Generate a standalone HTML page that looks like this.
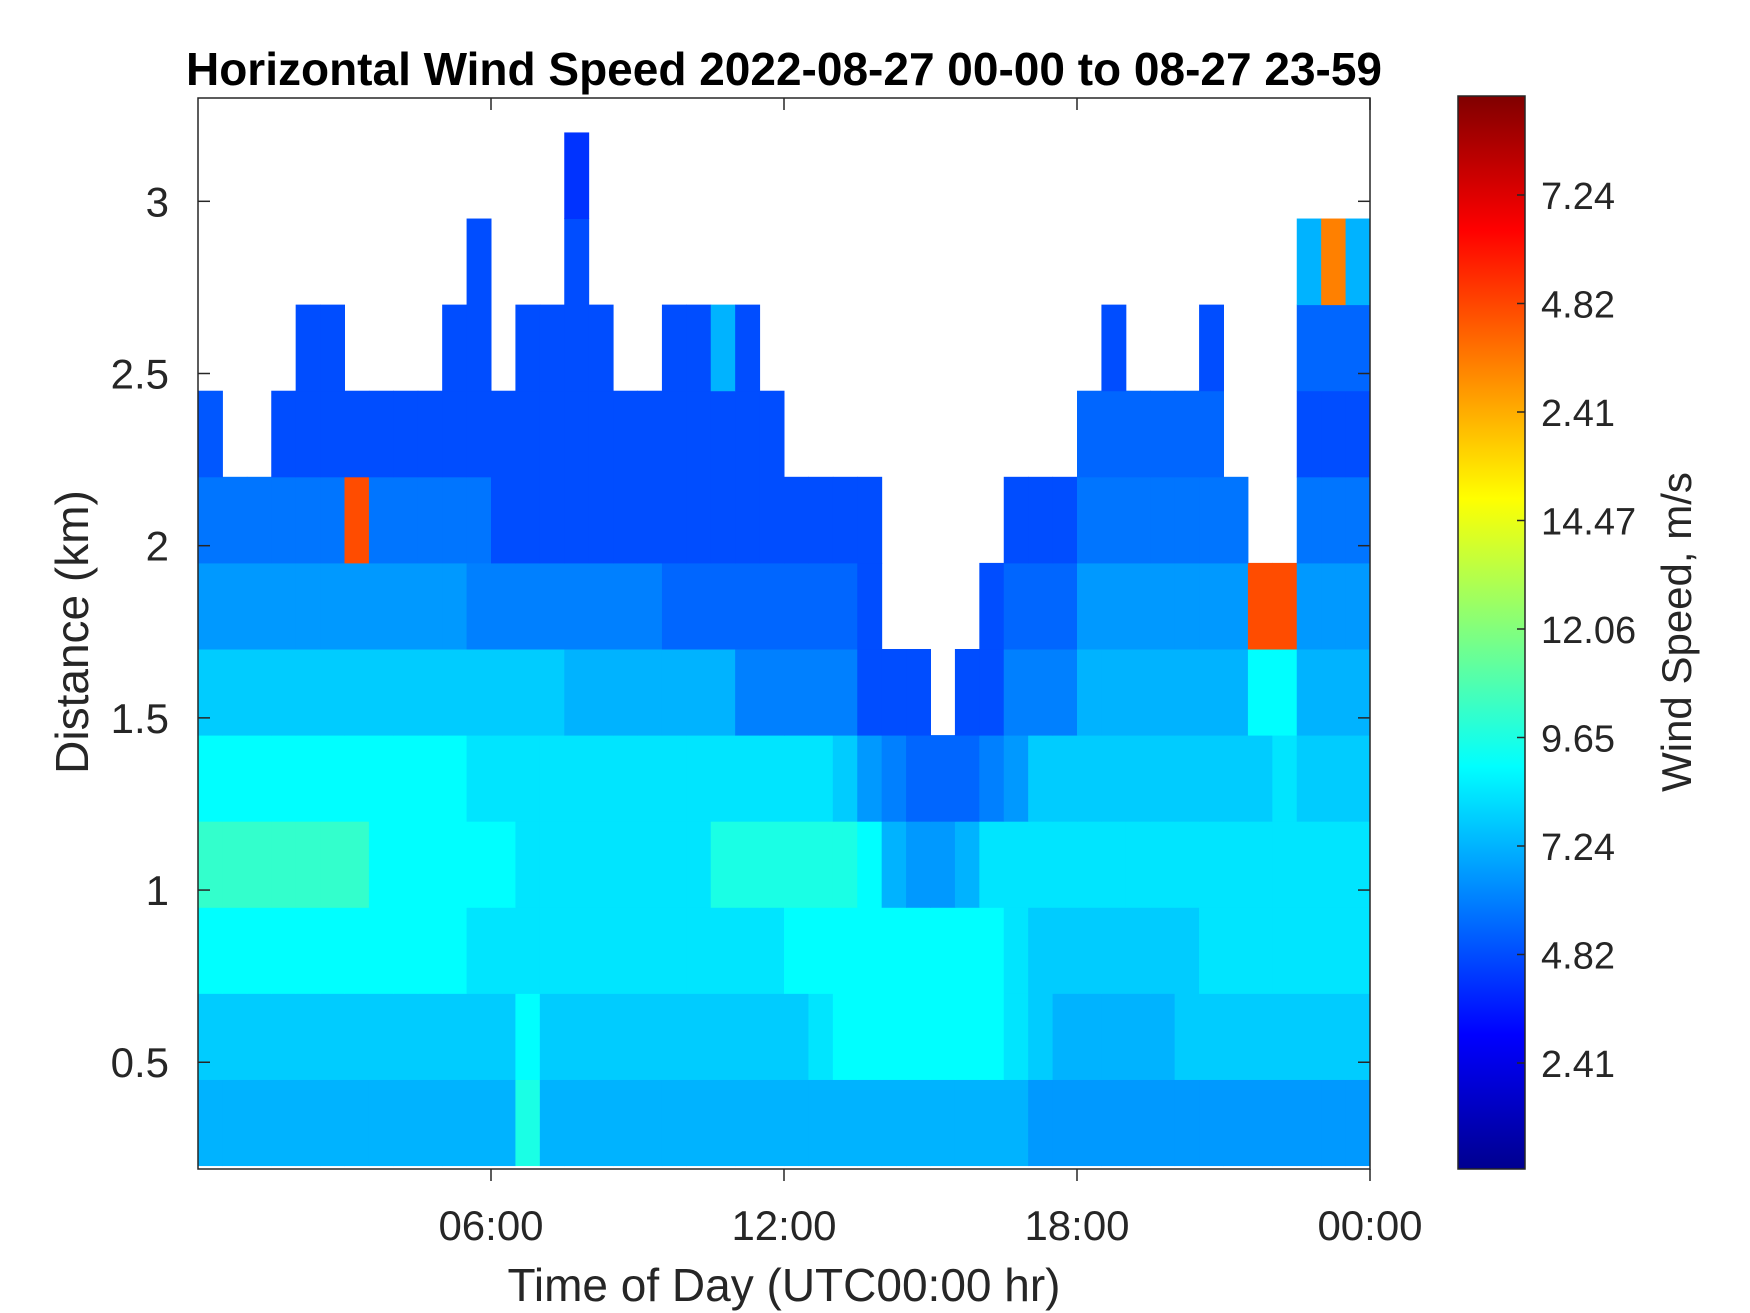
<!DOCTYPE html>
<html><head><meta charset="utf-8"><style>
html,body{margin:0;padding:0;background:#fff}
svg{display:block;font-family:"Liberation Sans",Arial,sans-serif}
</style></head><body>
<svg id="chart" width="1750" height="1313" viewBox="0 0 1750 1313" xmlns="http://www.w3.org/2000/svg">
<defs>
<linearGradient id="jet" x1="0" y1="1" x2="0" y2="0">
<stop offset="0" stop-color="#00008f"/><stop offset="0.125" stop-color="#0000ff"/>
<stop offset="0.375" stop-color="#00ffff"/><stop offset="0.625" stop-color="#ffff00"/>
<stop offset="0.875" stop-color="#ff0000"/><stop offset="1" stop-color="#800000"/>
</linearGradient>
</defs>
<rect x="0" y="0" width="1750" height="1313" fill="#fff"/>
<g id="cells"></g>
<g id="axes"></g>
<text x="784" y="85" font-size="46" font-weight="bold" text-anchor="middle" fill="#000">Horizontal Wind Speed 2022-08-27 00-00 to 08-27 23-59</text>
<text x="784" y="1301" font-size="46" text-anchor="middle" fill="#262626">Time of Day (UTC00:00 hr)</text>
<text x="0" y="0" font-size="46" text-anchor="middle" fill="#262626" transform="translate(88,632) rotate(-90)">Distance (km)</text>
<rect x="1458" y="96" width="67" height="1073" fill="url(#jet)" stroke="#262626" stroke-width="1.5"/>
<g id="cbar"></g>
<text x="0" y="0" font-size="42" text-anchor="middle" fill="#262626" transform="translate(1691,632) rotate(-90)">Wind Speed, m/s</text>
</svg>
<script>
// time bins: 48 half-hour columns; height bins 0.25 km from 0.2 km
const timeBinsHours = [0,0.5,1,1.5,2,2.5,3,3.5,4,4.5,5,5.5,6,6.5,7,7.5,8,8.5,9,9.5,10,10.5,11,11.5,12,12.5,13,13.5,14,14.5,15,15.5,16,16.5,17,17.5,18,18.5,19,19.5,20,20.5,21,21.5,22,22.5,23,23.5];
const heightBinsKm = [0.2,0.45,0.7,0.95,1.2,1.45,1.7,1.95,2.2,2.45,2.7,2.95];
// wind speed (m/s), rows bottom->top, 0 = no data
const speedRow0  = [6,6,6,6,6,6,6,6,6,6,6,6,6,8,6,6,6,6,6,6,6,6,6,6,6,6,6,6,6,6,6,6,6,6,5.5,5.5,5.5,5.5,5.5,5.5,5.5,5.5,5.5,5.5,5.5,5.5,5.5,5.5];
const speedRow1  = [6.5,6.5,6.5,6.5,6.5,6.5,6.5,6.5,6.5,6.5,6.5,6.5,6.5,7.5,6.5,6.5,6.5,6.5,6.5,6.5,6.5,6.5,6.5,6.5,6.5,7,7.5,7.5,7.5,7.5,7.5,7.5,7.5,7,6.5,6,6,6,6,6,6.5,6.5,6.5,6.5,6.5,6.5,6.5,6.5];
const speedRow2  = [7.5,7.5,7.5,7.5,7.5,7.5,7.5,7.5,7.5,7.5,7.5,7,7,7,7,7,7,7,7,7,7,7,7,7,7.5,7.5,7.5,7.5,7.5,7.5,7.5,7.5,7.5,7,6.5,6.5,6.5,6.5,6.5,6.5,6.5,7,7,7,7,7,7,7];
const speedRow3  = [8.5,8.5,8.5,8.5,8.5,8.5,8.5,7.5,7.5,7.5,7.5,7.5,7.5,7,7,7,7,7,7,7,7,8,8,8,8,8,8,7.5,6,5.5,5.5,6,7,7,7,7,7,7,7,7,7,7,7,7,7,7,7,7];
const speedRow4  = [7.5,7.5,7.5,7.5,7.5,7.5,7.5,7.5,7.5,7.5,7.5,7,7,7,7,7,7,7,7,7,7,7,7,7,7,7,6.5,5.5,5,4.5,4.5,4.5,5,5.5,6.5,6.5,6.5,6.5,6.5,6.5,6.5,6.5,6.5,6.5,7,6.5,6.5,6.5];
const speedRow5  = [6.5,6.5,6.5,6.5,6.5,6.5,6.5,6.5,6.5,6.5,6.5,6.5,6.5,6.5,6.5,6,6,6,6,6,6,6,5,5,5,5,5,4,4,4,0,4,4,5,5,5,6,6,6,6,6,6,6,7.5,7.5,6,6,6];
const speedRow6  = [5.5,5.5,5.5,5.5,5.5,5.5,5.5,5.5,5.5,5.5,5.5,5,5,5,5,5,5,5,5,4.5,4.5,4.5,4.5,4.5,4.5,4.5,4.5,4,0,0,0,0,4,4.5,4.5,4.5,5.5,5.5,5.5,5.5,5.5,5.5,5.5,16,16,5.5,5.5,5.5];
const speedRow7  = [4.8,4.8,4.8,4.8,4.8,4.8,16,4.8,4.8,4.8,4.8,4.8,4,4,4,4,4,4,4,4,4,4,4,4,4,4,4,4,0,0,0,0,0,4,4,4,4.8,4.8,4.8,4.8,4.8,4.8,4.8,0,0,4.8,4.8,4.8];
const speedRow8  = [4.2,0,0,4,4,4,4,4,4,4,4,4,4,4,4,4,4,4,4,4,4,4,4,4,0,0,0,0,0,0,0,0,0,0,0,0,4.5,4.5,4.5,4.5,4.5,4.5,0,0,0,4,4,4];
const speedRow9  = [0,0,0,0,4,4,0,0,0,0,4,4,0,4,4,4,4,0,0,4,4,6,4,0,0,0,0,0,0,0,0,0,0,0,0,0,0,4,0,0,0,4,0,0,0,4.5,4.5,4.5];
const speedRow10 = [0,0,0,0,0,0,0,0,0,0,0,4,0,0,0,4,0,0,0,0,0,0,0,0,0,0,0,0,0,0,0,0,0,0,0,0,0,0,0,0,0,0,0,0,0,6,15,6];
const speedRow11 = [0,0,0,0,0,0,0,0,0,0,0,0,0,0,0,3.5,0,0,0,0,0,0,0,0,0,0,0,0,0,0,0,0,0,0,0,0,0,0,0,0,0,0,0,0,0,0,0,0];
const speedRows = [speedRow0,speedRow1,speedRow2,speedRow3,speedRow4,speedRow5,speedRow6,speedRow7,speedRow8,speedRow9,speedRow10,speedRow11];
const xTickHours = [6,12,18,24];
const xTickLabels = ["06:00","12:00","18:00","00:00"];
const yTickKm = [0.5,1,1.5,2,2.5,3];
const yTickLabels = ["0.5","1","1.5","2","2.5","3"];
const cbarLabels = ["2.41","4.82","7.24","9.65","12.06","14.47","2.41","4.82","7.24"];

const NS="http://www.w3.org/2000/svg";
const PL=198, PR=1370, PT=98, PB=1169;
const X_MIN=0, X_MAX=24, Y_MIN=0.19, Y_MAX=3.3, V_MAX=20;
const xs=h=>PL+(h-X_MIN)/(X_MAX-X_MIN)*(PR-PL);
const ys=k=>PB-(k-Y_MIN)/(Y_MAX-Y_MIN)*(PB-PT);
function jet(v){
  const t=Math.max(0,Math.min(1,v/V_MAX));
  const c=x=>Math.round(255*Math.max(0,Math.min(1,1.5-Math.abs(4*t-x))));
  return `rgb(${c(3)},${c(2)},${c(1)})`;
}
const cells=document.getElementById('cells');
speedRows.forEach((row,ri)=>{
  row.forEach((v,ci)=>{
    if(!v) return;
    const x0=xs(timeBinsHours[ci]), x1=xs(timeBinsHours[ci]+0.5);
    const yb=Math.max(heightBinsKm[ri],Y_MIN), y0=ys(yb), y1=ys(heightBinsKm[ri]+0.25);
    const r=document.createElementNS(NS,'rect');
    
    
    r.setAttribute('x',x0);r.setAttribute('y',y1);
    r.setAttribute('width',x1-x0+0.5);r.setAttribute('height',y0-y1+0.5);
    r.setAttribute('fill',jet(v));
    cells.appendChild(r);
  });
});
const ax=document.getElementById('axes');
function el(tag,attrs,text){const e=document.createElementNS(NS,tag);for(const k in attrs)e.setAttribute(k,attrs[k]);if(text!==undefined)e.textContent=text;ax.appendChild(e);return e;}
const box=el('rect',{x:PL,y:PT,width:PR-PL,height:PB-PT,fill:'none',stroke:'#262626','stroke-width':1.5});


xTickHours.forEach((h,i)=>{
  const x=xs(h);
  const t1=el('line',{x1:x,y1:PB,x2:x,y2:PB+12,stroke:'#262626','stroke-width':1.5});
  
  
  const t2=el('line',{x1:x,y1:PT,x2:x,y2:PT+12,stroke:'#262626','stroke-width':1.5});
  
  
  const l=el('text',{x:x,y:1240,'font-size':42,'text-anchor':'middle',fill:'#262626'},xTickLabels[i]);
  
  
});
yTickKm.forEach((k,i)=>{
  const y=ys(k);
  const t1=el('line',{x1:PL,y1:y,x2:PL+12,y2:y,stroke:'#262626','stroke-width':1.5});
  
  
  const t2=el('line',{x1:PR-12,y1:y,x2:PR,y2:y,stroke:'#262626','stroke-width':1.5});
  
  
  const l=el('text',{x:169,y:y+15,'font-size':42,'text-anchor':'end',fill:'#262626'},yTickLabels[i]);
  
  
});
const cb=document.getElementById('cbar');
const CB_B=1063, CB_STEP=108.5;
cbarLabels.forEach((s,i)=>{
  const y=CB_B-i*CB_STEP;
  const t=document.createElementNS(NS,'line');
  
  
  t.setAttribute('x1',1517);t.setAttribute('x2',1525);t.setAttribute('y1',y);t.setAttribute('y2',y);
  t.setAttribute('stroke','#262626');t.setAttribute('stroke-width',1.5);
  cb.appendChild(t);
  const l=document.createElementNS(NS,'text');
  
  
  l.setAttribute('x',1541);l.setAttribute('y',y+14);l.setAttribute('font-size',38);l.setAttribute('fill','#262626');
  l.textContent=s;
  cb.appendChild(l);
});
</script>
</body></html>
